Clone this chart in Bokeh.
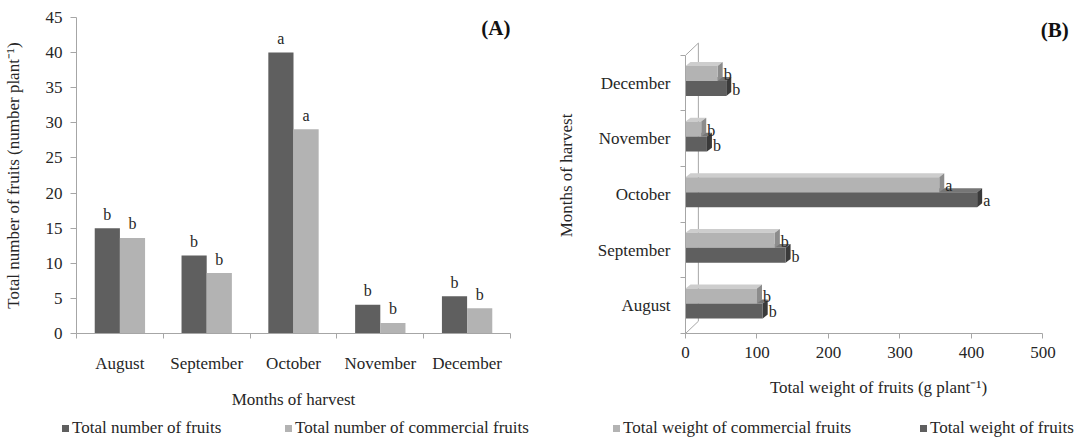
import numpy as np
from bokeh.plotting import figure
from bokeh.layouts import row, column
from bokeh.models import ColumnDataSource, FixedTicker, Range1d, Label, Div
from bokeh.embed import file_html
from bokeh.resources import INLINE

# ---------------- data ----------------
months = ["August", "September", "October", "November", "December"]
num_total = [15.0, 11.1, 40.0, 4.1, 5.3]
num_commercial = [13.6, 8.6, 29.1, 1.5, 3.6]
letters_num_total = ["b", "b", "a", "b", "b"]
letters_num_commercial = ["b", "b", "a", "b", "b"]

wt_commercial = [100, 125, 355, 22, 45]
wt_total = [108, 140, 408, 30, 57]
letters_wt_commercial = ["b", "b", "a", "b", "b"]
letters_wt_total = ["b", "b", "a", "b", "b"]

y_ticks_A = [0, 5, 10, 15, 20, 25, 30, 35, 40, 45]
x_ticks_B = [0, 100, 200, 300, 400, 500]

legend_labels = ["Total number of fruits", "Total number of commercial fruits",
                 "Total weight of commercial fruits", "Total weight of fruits"]

# ---------------- style ----------------
FONT = "Liberation Serif"
TXT = "#262626"
AX = "#a6a6a6"
DARK = "#5f5f5f"
LIGHT = "#b3b3b3"
DARK_TOP = "#767676"
DARK_SIDE = "#3a3a3a"
LIGHT_TOP = "#cdcdcd"
LIGHT_SIDE = "#8c8c8c"
FS = "17px"
W = 542
H_MAIN = 416
H_LEG = 29
TOP = 17
BOTTOM = 83
legend_colors = [DARK, LIGHT, LIGHT, DARK]
legend_x = [62, 285, 613, 920]   # swatch left edges (px)

idx = np.arange(len(months))
bounds = list(np.arange(len(months) + 1) - 0.5)


def style_axis(ax):
    ax.axis_line_color = AX
    ax.major_tick_line_color = AX
    ax.minor_tick_line_color = AX
    ax.major_label_text_font = FONT
    ax.major_label_text_font_size = FS
    ax.major_label_text_color = TXT
    ax.axis_label_text_font = FONT
    ax.axis_label_text_font_size = FS
    ax.axis_label_text_font_style = "normal"
    ax.axis_label_text_color = TXT


# ================= Panel A =================
pA = figure(width=W, height=H_MAIN, output_backend="svg", toolbar_location=None,
            x_range=Range1d(-0.5, 4.5), y_range=Range1d(0, 45),
            min_border_left=71, min_border_right=32, min_border_top=TOP,
            min_border_bottom=BOTTOM)
pA.xgrid.visible = False
pA.ygrid.visible = False
pA.outline_line_color = None

bw = 0.29
srcA = ColumnDataSource(dict(
    xd=idx - bw / 2, xl=idx + bw / 2,
    tot=num_total, com=num_commercial,
    lt=letters_num_total, lc=letters_num_commercial))
pA.vbar(x="xd", top="tot", width=bw, source=srcA, fill_color=DARK, line_color=None)
pA.vbar(x="xl", top="com", width=bw, source=srcA, fill_color=LIGHT, line_color=None)
for xc, yc, tc in (("xd", "tot", "lt"), ("xl", "com", "lc")):
    pA.text(x=xc, y=yc, text=tc, source=srcA, text_align="center",
            text_baseline="alphabetic", y_offset=-14, text_font=FONT,
            text_font_size="16px", text_color=TXT)

xa = pA.xaxis[0]
style_axis(xa)
xa.ticker = FixedTicker(ticks=list(idx), minor_ticks=bounds)
xa.major_label_overrides = {int(i): m for i, m in zip(idx, months)}
xa.major_tick_out = 0
xa.major_tick_in = 0
xa.minor_tick_out = 5
xa.minor_tick_in = 0
xa.bounds = (-0.5, 4.5)
xa.major_label_standoff = 15
xa.axis_label = "Months of harvest"
xa.axis_label_standoff = 14

ya = pA.yaxis[0]
style_axis(ya)
ya.ticker = FixedTicker(ticks=y_ticks_A)
ya.major_tick_out = 6
ya.major_tick_in = 0
ya.minor_tick_out = 0
ya.minor_tick_in = 0
ya.major_label_standoff = 8
ya.axis_label = "Total number of fruits (number plant\u207b\u00b9)"
ya.axis_label_standoff = 20

pA.add_layout(Label(x=4.5, y=43.5, text="(A)", text_align="right", text_baseline="middle",
                    text_font=FONT, text_font_size="21px", text_font_style="bold",
                    text_color="#111111"))

# ================= Panel B =================
pB = figure(width=W, height=H_MAIN, output_backend="svg", toolbar_location=None,
            x_range=Range1d(0, 540), y_range=Range1d(-0.5, 5.18),
            min_border_left=143, min_border_right=13, min_border_top=TOP,
            min_border_bottom=BOTTOM)
pB.xgrid.visible = False
pB.ygrid.visible = False
pB.outline_line_color = None

h = 0.27
DX = 7.0      # 3D depth in x (data units)
DY = 0.07     # 3D depth in y (category units)
WALL_DX = 18.0
WALL_DY = 0.22

# back wall of the 3D frame
pB.line(x=[0, WALL_DX, WALL_DX, 0], y=[-0.5, -0.5 + WALL_DY, 4.5 + WALL_DY, 4.5],
        line_color=AX, line_width=1)

yl = idx + 0.175
yd = idx - 0.095


def bar3d(yc, vals, front, top, side):
    tx, ty, sx, sy = [], [], [], []
    for y0, v in zip(yc, vals):
        yt, yb = y0 + h / 2, y0 - h / 2
        tx.append([0, DX, v + DX, v]); ty.append([yt, yt + DY, yt + DY, yt])
        sx.append([v, v, v + DX, v + DX]); sy.append([yb, yt, yt + DY, yb + DY])
    pB.patches(xs=tx, ys=ty, fill_color=top, line_color=None)
    pB.patches(xs=sx, ys=sy, fill_color=side, line_color=None)
    return pB.hbar(y=list(yc), left=0, right=vals, height=h, fill_color=front, line_color=None)


bar3d(yd, wt_total, DARK, DARK_TOP, DARK_SIDE)
bar3d(yl, wt_commercial, LIGHT, LIGHT_TOP, LIGHT_SIDE)

srcB = ColumnDataSource(dict(yl=yl, yd=yd, com=np.array(wt_commercial) + DX,
                             tot=np.array(wt_total) + DX,
                             lc=letters_wt_commercial, lt=letters_wt_total))
for xc, yc, tc in (("com", "yl", "lc"), ("tot", "yd", "lt")):
    pB.text(x=xc, y=yc, text=tc, source=srcB, text_align="left", text_baseline="middle",
            x_offset=1, y_offset=1, text_font=FONT, text_font_size="16px", text_color=TXT)

xb = pB.xaxis[0]
style_axis(xb)
xb.ticker = FixedTicker(ticks=x_ticks_B)
xb.major_tick_out = 5
xb.major_tick_in = 0
xb.minor_tick_out = 0
xb.minor_tick_in = 0
xb.bounds = (0, 500)
xb.major_label_standoff = 8
xb.axis_label = "Total weight of fruits (g plant\u207b\u00b9)"
xb.axis_label_standoff = 17

yb = pB.yaxis[0]
style_axis(yb)
yb.ticker = FixedTicker(ticks=list(idx), minor_ticks=bounds)
yb.major_label_overrides = {int(i): m for i, m in zip(idx, months)}
yb.major_tick_out = 0
yb.major_tick_in = 0
yb.minor_tick_out = 5
yb.minor_tick_in = 0
yb.bounds = (-0.5, 4.5)
yb.major_label_standoff = 10
yb.axis_label = "Months of harvest"
yb.axis_label_standoff = 19

pB.add_layout(Label(x=536, y=4.95, text="(B)", text_align="right", text_baseline="middle",
                    text_font=FONT, text_font_size="21px", text_font_style="bold",
                    text_color="#111111"))

# ================= Legends (HTML strip) =================
parts = []
for lab, col, x0 in zip(legend_labels, legend_colors, legend_x):
    parts.append(
        f'<span style="position:absolute;left:{x0}px;top:9px;width:7px;height:7px;'
        f'background:{col};"></span>'
        f'<span style="position:absolute;left:{x0 + 10}px;top:2px;line-height:20px;'
        f'white-space:nowrap;">{lab}</span>')
html = (f'<div style="position:relative;width:{2 * W}px;height:{H_LEG}px;'
        f"font-family:'{FONT}';font-size:{FS};color:{TXT};\">" + "".join(parts) + "</div>")
leg = Div(text=html, width=2 * W, height=H_LEG, margin=(0, 0, 0, 0))

layout = column(row(pA, pB), leg)
open("out.html", "w").write(file_html(layout, INLINE))
